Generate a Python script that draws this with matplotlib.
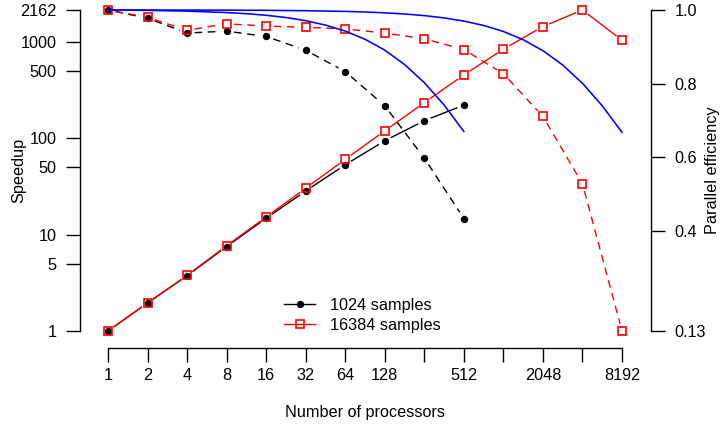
import numpy as np
import matplotlib
matplotlib.use("Agg")
import matplotlib.pyplot as plt
from matplotlib.lines import Line2D
from matplotlib.ticker import NullLocator

plt.rcParams['font.family'] = ['Liberation Sans', 'DejaVu Sans']
plt.rcParams['font.size'] = 11.7

# processors (powers of two)
procs_1024 = [1, 2, 4, 8, 16, 32, 64, 128, 256, 512]
procs_16384 = [1, 2, 4, 8, 16, 32, 64, 128, 256, 512, 1024, 2048, 4096, 8192]

# measured speedup
speedup_1024 = [1, 1.955, 3.75, 7.54, 14.85, 28.5, 53.3, 94.7, 153, 222]
speedup_16384 = [1, 1.96, 3.78, 7.70, 15.3, 30.5, 60.7, 120, 236, 457, 847, 1456, 2162, 1050]

# theoretical efficiency curves (blue), read at half-doublings
curve_p_small = [1, 1.414, 2, 2.83, 4, 5.66, 8, 11.3, 16, 22.6, 32, 45.3, 64, 90.5,
                 128, 181, 256, 362, 512]
curve_e_small = [1.0, 0.9996, 0.999, 0.998, 0.997, 0.995, 0.993, 0.990, 0.9857, 0.9796,
                 0.971, 0.959, 0.9427, 0.9206, 0.891, 0.852, 0.8027, 0.742, 0.670]
curve_p_large = [1, 2, 4, 8, 16, 32, 64, 90.5, 128, 181, 256, 362, 512, 724, 1024,
                 1448, 2048, 2896, 4096, 5793, 8192]
curve_e_large = [1.0, 0.9999, 0.9998, 0.9996, 0.9991, 0.9981, 0.9962, 0.9946, 0.9923,
                 0.9892, 0.9848, 0.9785, 0.9699, 0.958, 0.9417, 0.9193, 0.8895, 0.8506,
                 0.8009, 0.7399, 0.6679]

xtick_vals = [2 ** k for k in range(14)]
xtick_labs = ['1', '2', '4', '8', '16', '32', '64', '128', '', '512', '', '2048', '', '8192']

eff_1024 = np.array(speedup_1024) / np.array(procs_1024)
eff_16384 = np.array(speedup_16384) / np.array(procs_16384)
eff_min = eff_16384.min()
s_max = max(speedup_16384)

W, H = 722, 425
fig = plt.figure(figsize=(W / 100, H / 100), dpi=100)
ax = fig.add_axes([108 / W, 1 - 331 / H, 514 / W, 321 / H])
ax.set_xscale('log', base=2)
ax.set_yscale('log')
ax.set_xlim(1, 8192)
ax.set_ylim(1, s_max)
ax2 = ax.twinx()
ax2.set_ylim(eff_min, 1.0)

for a in (ax, ax2):
    a.patch.set_visible(False)
    a.spines['top'].set_visible(False)
ax.spines['right'].set_visible(False)
ax2.spines['left'].set_visible(False)
ax2.spines['bottom'].set_visible(False)
ax.spines['left'].set_position(('outward', 20))
ax.spines['bottom'].set_position(('outward', 12))
ax2.spines['right'].set_position(('outward', 20.7))


def gapped(a, x, y, gap=7.5, **kw):
    # R type="b": line segments stop short of the points
    pts = a.transData.transform(np.column_stack([x, y]))
    inv = a.transData.inverted()
    for p0, p1 in zip(pts[:-1], pts[1:]):
        d = p1 - p0
        L = np.hypot(*d)
        if L <= 2 * gap:
            continue
        u = d / L
        seg = inv.transform(np.array([p0 + u * gap, p1 - u * gap]))
        a.plot(seg[:, 0], seg[:, 1], clip_on=False, **kw)


lw = 1.0
dash = (5.5, 4)
# speedup
gapped(ax, procs_1024, speedup_1024, color='black', lw=lw)
ax.plot(procs_1024, speedup_1024, 'o', color='black', ms=4.3, clip_on=False)
gapped(ax, procs_16384, speedup_16384, color='#FF0000', lw=lw)
ax.plot(procs_16384, speedup_16384, 's', mfc='none', mec='#FF0000', mew=1.2, ms=5.5,
        clip_on=False)

# efficiency
gapped(ax2, procs_1024, eff_1024, color='black', lw=lw, dashes=dash)
ax2.plot(procs_1024, eff_1024, 'o', color='black', ms=4.3, clip_on=False)
gapped(ax2, procs_16384, eff_16384, color='#FF0000', lw=lw, dashes=dash)
ax2.plot(procs_16384, eff_16384, 's', mfc='none', mec='#FF0000', mew=1.2, ms=5.5,
         clip_on=False)
ax2.plot(curve_p_small, curve_e_small, color='#0000FF', lw=1.15, clip_on=False)
ax2.plot(curve_p_large, curve_e_large, color='#0000FF', lw=1.15, clip_on=False)

# ticks
ax.set_xticks(xtick_vals)
ax.set_xticklabels(xtick_labs)
ax.xaxis.set_minor_locator(NullLocator())
ax.set_yticks([1, 5, 10, 50, 100, 500, 1000, s_max])
ax.set_yticklabels(['1', '5', '10', '50', '100', '500', '1000', str(s_max)])
ax.yaxis.set_minor_locator(NullLocator())
ax2.set_yticks([eff_min, 0.4, 0.6, 0.8, 1.0])
ax2.set_yticklabels([f'{eff_min:.2f}', '0.4', '0.6', '0.8', '1.0'])
ax2.yaxis.set_minor_locator(NullLocator())
ax.tick_params(axis='x', length=10, width=1, pad=5)
ax.tick_params(axis='y', length=10, width=1, pad=7)
ax2.tick_params(axis='y', length=10, width=1, pad=7)
for s in ('left', 'bottom'):
    ax.spines[s].set_linewidth(1)
ax2.spines['right'].set_linewidth(1)

fig.text(18.5 / W, 1 - 170 / H, 'Speedup', rotation=90, ha='center', va='center')
fig.text(713 / W, 1 - 170 / H, 'Parallel efficiency', rotation=90, ha='center', va='center')
fig.text(365 / W, 1 - 413 / H, 'Number of processors', ha='center', va='center')

handles = [
    Line2D([], [], color='black', lw=lw, marker='o', ms=4.3),
    Line2D([], [], color='#FF0000', lw=lw, marker='s', mfc='none', mec='#FF0000',
           mew=1.2, ms=5.5),
]
fig.legend(handles, ['1024 samples', '16384 samples'], loc='upper left',
           bbox_to_anchor=(276 / W, 1 - 290 / H), frameon=False, borderpad=0,
           handlelength=1.9, handletextpad=0.92, labelspacing=0.3, numpoints=1)

fig.savefig('out.png', dpi=100)
